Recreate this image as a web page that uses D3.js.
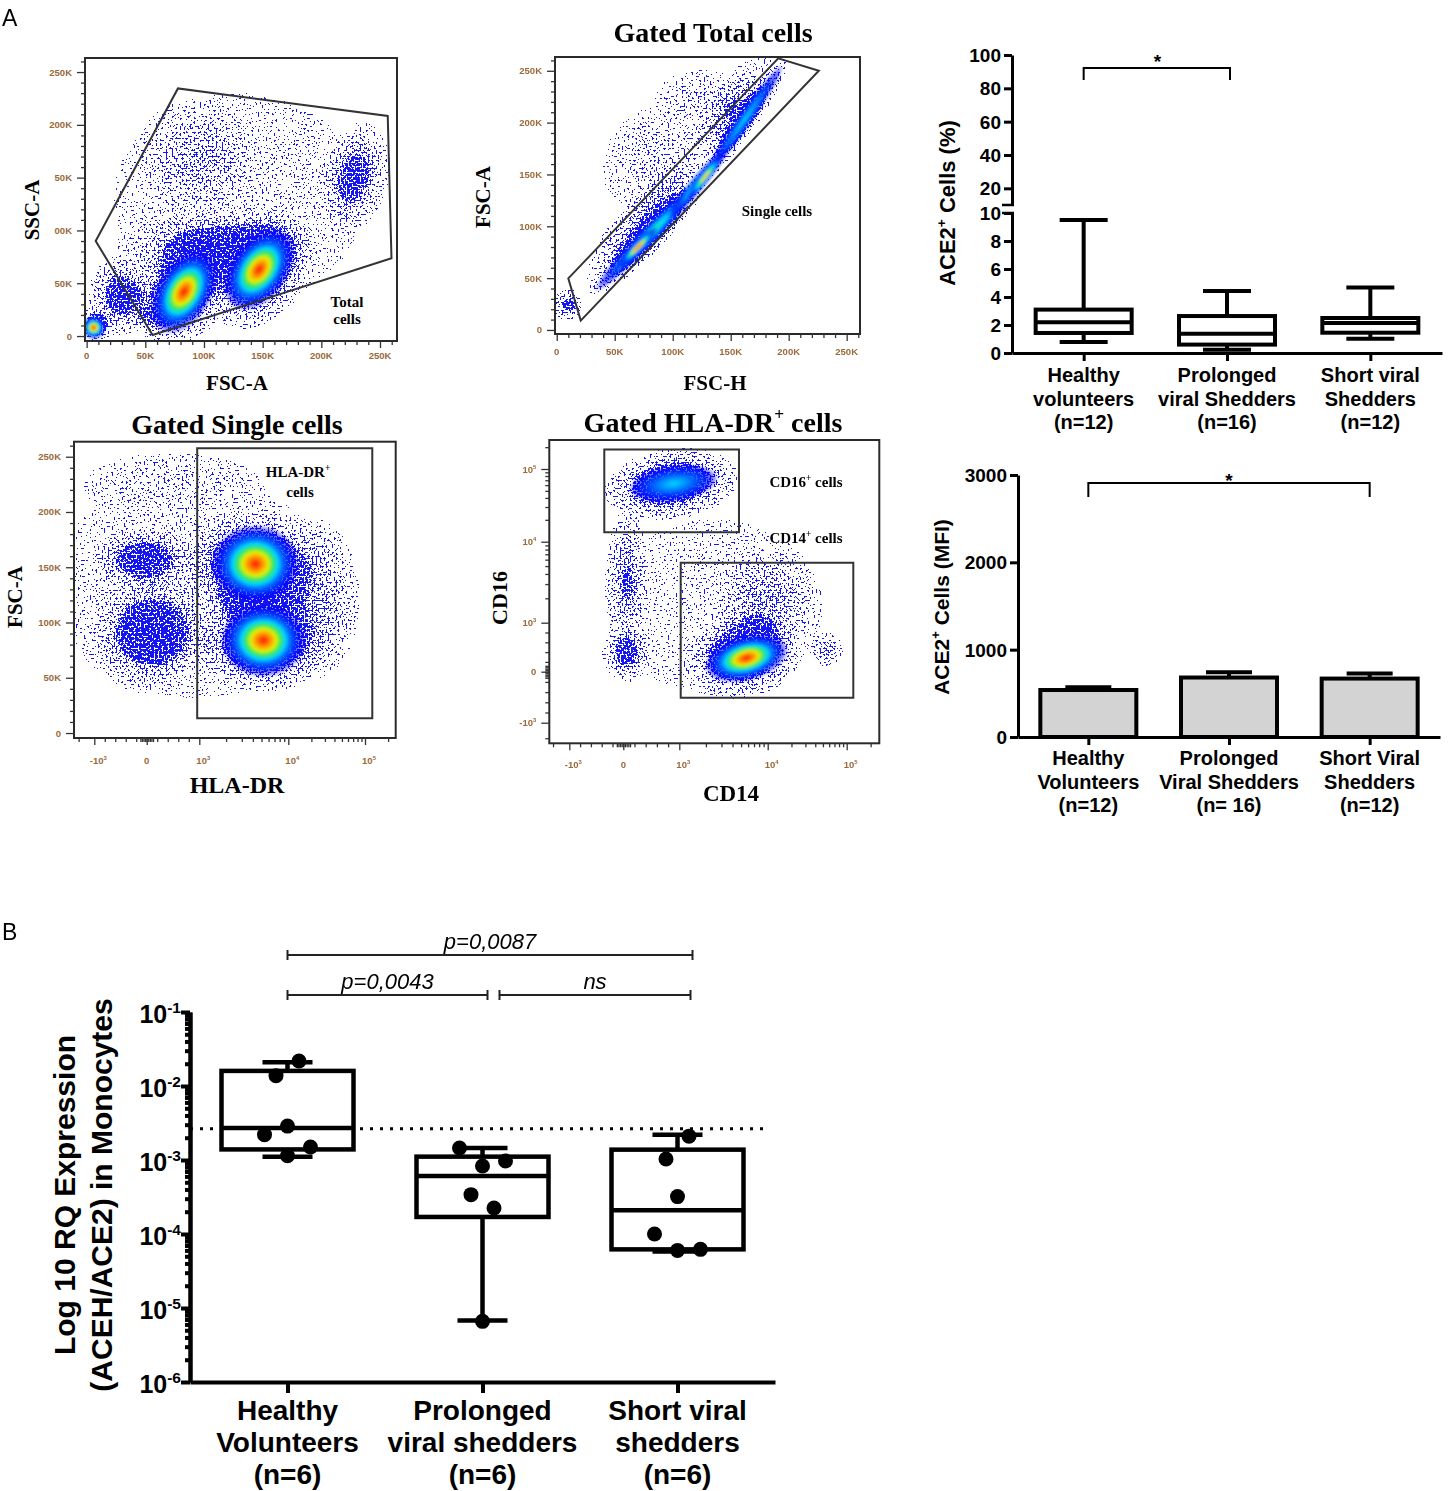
<!DOCTYPE html>
<html>
<head>
<meta charset="utf-8">
<script src="https://cdnjs.cloudflare.com/ajax/libs/d3/7.8.5/d3.min.js"></script>
<style>
  body { margin: 0; background: #fff; }
  svg { display: block; }
</style>
</head>
<body>
<svg id="canvas"></svg>
<script>
let width = 1454;
let height = 1491;

let sans = "'Liberation Sans', Arial, Helvetica, sans-serif";
let serif = "'Liberation Serif', 'Times New Roman', serif";

// ---------- panel A : flow cytometry gating ----------
// scatter populations: [x, y, spreadX, spreadY, tilt (deg), density 0-1]
// hot cores:           [x, y, spreadX, spreadY, tilt (deg), heat 0-6]
// biexponential axes are in decade units: 0 = 0, 1 = 10^3, 2 = 10^4, 3 = 10^5, -1 = -10^3
let totalSpeckle = [
  [130, 130, 150, 140, 0, 0.15],
  [95, 170, 55, 55, 0, 0.4],
  [228, 150, 30, 55, 15, 0.7],
  [115, 85, 90, 38, 0, 0.75],
  [30, 38, 30, 40, 0, 0.8],
  [60, 18, 22, 14, 0, 0.5],
  [82, 45, 40, 62, 30, 1],
  [146, 63, 42, 62, 35, 1],
  [8, 10, 16, 18, 0, 1]
];
let totalCores = [
  [83, 42, 24, 44, 30, 6],
  [147, 63, 25, 44, 35, 6],
  [6, 8, 10, 11, 30, 6]
];
let totalGate = [[7.7, 90], [77.8, 234.5], [256.6, 208.4], [259.8, 73.6], [56.2, 1]];

let singleSpeckle = [
  [80, 92, 76, 16, -46, 1],
  [162, 203, 66, 13, -55, 1],
  [76, 104, 78, 28, -50, 0.6],
  [150, 210, 62, 26, -56, 0.55],
  [85, 165, 60, 55, -50, 0.28],
  [125, 225, 45, 30, 0, 0.3],
  [10, 24, 14, 16, 0, 0.7]
];
let singleCores = [
  [80, 92, 68, 9, -46, 3],
  [162, 203, 58, 7, -55, 2],
  [122, 142, 40, 7, -50, 3],
  [70, 80, 24, 5, -46, 6],
  [128, 148, 26, 5, -52, 5]
];
let singleGate = [[10, 49.7], [191, 262], [226, 250], [20.7, 9]];

let hlaSpeckle = [
  [0.9, 130, 2.3, 125, 0, 0.2],
  [0.4, 228, 1.4, 32, 0, 0.2],
  [-0.05, 157, 1.0, 30, 0, 0.8],
  [0.1, 90, 1.1, 55, 0, 0.85],
  [2.4, 120, 0.55, 75, 0, 0.45],
  [1.68, 118, 0.7, 25, 0, 0.8],
  [1.63, 153, 0.9, 50, 0, 1],
  [1.72, 82, 0.85, 46, 0, 1]
];
let hlaCores = [
  [1.63, 153, 0.52, 36, 0, 6],
  [1.72, 84, 0.52, 34, 0, 6]
];
let hlaGate = [[0.96, 13.3], [3.095, 13.3], [3.095, 257.6], [0.96, 257.6]];

let cdSpeckle = [
  [1.4, 1.2, 2.2, 1.9, 0, 0.1],
  [0.85, 2.8, 0.85, 0.5, -8, 1],
  [0.07, 1.5, 0.4, 1.0, 0, 0.6],
  [0.06, 0.37, 0.45, 0.6, 0, 0.7],
  [1.95, 1.25, 0.7, 0.75, 0, 0.5],
  [2.75, 0.45, 0.22, 0.35, 0, 0.5],
  [1.72, 0.35, 0.75, 0.8, -15, 1]
];
let cdCores = [
  [0.9, 2.8, 0.55, 0.25, -8, 2],
  [1.76, 0.28, 0.52, 0.47, -15, 6]
];
let cd16Gate = [[-0.352, 2.13], [1.675, 2.13], [1.675, 3.27], [-0.352, 3.27]];
let cd14Gate = [[1.016, -0.51], [3.083, -0.51], [3.083, 1.74], [1.016, 1.74]];

let linTicks = [0, 50, 100, 150, 200, 250];
let linLabels = ["0", "50K", "100K", "150K", "200K", "250K"];
let sscLabels = ["0", "50K", "00K", "50K", "200K", "250K"];
let biexTicks = [-1, 0, 1, 2, 3];
let biexLabels = [["-10", ["3"]], ["0"], ["10", ["3"]], ["10", ["4"]], ["10", ["5"]]];

// ---------- panel A : ACE2+ cells (%) ----------
let pctGroups = [["Healthy", "volunteers", "(n=12)"], ["Prolonged", "viral Shedders", "(n=16)"], ["Short viral", "Shedders", "(n=12)"]];
let pctMin = [0.79, 0.24, 1.02];
let pctQ1 = [1.43, 0.6, 1.45];
let pctMed = [2.2, 1.38, 2.15];
let pctQ3 = [3.1, 2.64, 2.5];
let pctMax = [9.5, 4.43, 4.67];
let pctLowTicks = [0, 2, 4, 6, 8, 10];
let pctHighTicks = [20, 40, 60, 80, 100];

// ---------- panel A : ACE2+ cells (MFI) ----------
let mfiGroups = [["Healthy", "Volunteers", "(n=12)"], ["Prolonged", "Viral Shedders", "(n= 16)"], ["Short Viral", "Shedders", "(n=12)"]];
let mfiMean = [538, 681, 669];
let mfiErr = [31, 61, 58];
let mfiTicks = [0, 1000, 2000, 3000];

// ---------- panel B : RQ expression ----------
let rqGroups = [["Healthy", "Volunteers", "(n=6)"], ["Prolonged", "viral shedders", "(n=6)"], ["Short viral", "shedders", "(n=6)"]];
let rqMin = [1.11e-3, 6.8e-6, 5.8e-5];
let rqQ1 = [1.39e-3, 1.7e-4, 6.2e-5];
let rqMed = [2.7e-3, 6.1e-4, 2.1e-4];
let rqQ3 = [1.6e-2, 1.11e-3, 1.38e-3];
let rqMax = [2.09e-2, 1.45e-3, 2.2e-3];
let rqPoints = [
  [0.0218, 0.0138, 2.87e-3, 2.2e-3, 1.5e-3, 1.14e-3],
  [1.45e-3, 9.7e-4, 8.3e-4, 3.4e-4, 2.25e-4, 6.6e-6],
  [2.1e-3, 1.03e-3, 3.2e-4, 1.0e-4, 6.0e-5, 6.2e-5]
];
let rqSlots = [[1, -1, 0, -2, 2, 0], [-2, 2, 0, -1, 1, 0], [1, -1, 0, -2, 0, 2]];
let rqRef = 2.65e-3;
let rqTicks = [1e-1, 1e-2, 1e-3, 1e-4, 1e-5, 1e-6];
let rqTickExp = ["-1", "-2", "-3", "-4", "-5", "-6"];
let rqBrackets = [[0, 2, "p=0,0087"], [0, 1, "p=0,0043"], [1, 2, "ns"]];

let jet = ["#0000ff", "#0070ff", "#00d8ff", "#2ee85a", "#e8f000", "#ff9000", "#ff1000"];

let canvas = d3.select("#canvas").attr("width", width).attr("height", height);
let defs = canvas.append("defs");

// speckle texture: density alpha thresholded against noise gives scattered events
let spk = defs.append("filter").attr("id", "speckle")
  .attr("filterUnits", "userSpaceOnUse").attr("x", 0).attr("y", 0)
  .attr("width", width).attr("height", height)
  .attr("color-interpolation-filters", "sRGB");
spk.append("feTurbulence").attr("type", "fractalNoise").attr("baseFrequency", 0.5)
  .attr("numOctaves", 1).attr("seed", 5).attr("result", "noise");
spk.append("feColorMatrix").attr("in", "noise").attr("type", "matrix")
  .attr("values", "0 0 0 0 0  0 0 0 0 0  0 0 0 0 0  2.8 0 0 0 -0.9").attr("result", "n");
spk.append("feComposite").attr("in", "SourceAlpha").attr("in2", "n").attr("operator", "arithmetic")
  .attr("k1", 0).attr("k2", 1).attr("k3", -1).attr("k4", 0).attr("result", "d");
spk.append("feComponentTransfer").attr("in", "d").attr("result", "mask")
  .append("feFuncA").attr("type", "discrete")
  .attr("tableValues", "0 1 1 1 1 1 1 1 1 1 1 1 1 1 1 1 1 1 1 1");
spk.append("feFlood").attr("flood-color", "#1515f0").attr("result", "blue");
spk.append("feComposite").attr("in", "blue").attr("in2", "mask").attr("operator", "in");

defs.append("filter").attr("id", "soft").append("feGaussianBlur").attr("stdDeviation", 1.4);

let sg = defs.append("radialGradient").attr("id", "spkGrad");
sg.append("stop").attr("offset", 0).attr("stop-color", "#000").attr("stop-opacity", 1);
sg.append("stop").attr("offset", 0.4).attr("stop-color", "#000").attr("stop-opacity", 0.75);
sg.append("stop").attr("offset", 0.72).attr("stop-color", "#000").attr("stop-opacity", 0.32);
sg.append("stop").attr("offset", 1).attr("stop-color", "#000").attr("stop-opacity", 0);

d3.range(1, 7).forEach(h => {
  let gr = defs.append("radialGradient").attr("id", "jet" + h);
  for (let i = h; i >= 1; i--) {
    gr.append("stop").attr("offset", Math.pow((h - i) / h, 0.8) * 0.7).attr("stop-color", jet[i]);
  }
  gr.append("stop").attr("offset", 0.85).attr("stop-color", jet[0]).attr("stop-opacity", 0.6);
  gr.append("stop").attr("offset", 1).attr("stop-color", jet[0]).attr("stop-opacity", 0);
});

// text with superscripts: parts are strings, [string] = superscript
let rich = (sel, parts, size) => {
  let shift = 0;
  parts.forEach(part => {
    let isSup = Array.isArray(part);
    let target = isSup ? -size * 0.42 : 0;
    sel.append("tspan")
      .attr("dy", (target - shift) + "px")
      .attr("font-size", isSup ? size * 0.62 : size)
      .text(isSup ? part[0] : part);
    shift = target;
  });
  return sel;
};

let label = (x, y, parts, size, opts) => {
  opts = opts || {};
  let t = canvas.append("text")
    .attr("font-family", opts.family || sans)
    .attr("font-weight", opts.weight || "bold")
    .attr("font-style", opts.style || "normal")
    .attr("text-anchor", opts.anchor || "middle")
    .attr("fill", opts.fill || "#000");
  if (opts.rotate) {
    t.attr("transform", "translate(" + x + "," + y + ") rotate(-90)").attr("x", 0).attr("y", 0);
  } else {
    t.attr("x", x).attr("y", y);
  }
  return rich(t, parts, size);
};

// ---------- flow plots ----------
let linMinor = d3.range(10, 261, 10).filter(v => v % 50 !== 0);
let biexMinor = d3.range(-0.12, 0.121, 0.03).concat([-0.8, -0.6, -0.4, -0.2, 0.2, 0.4, 0.6, 0.8, -1 - Math.log10(2)]);
[1, 2, 3].forEach(dec => d3.range(2, 10).forEach(k => {
  let v = dec + Math.log10(k);
  if (v < 3.4) biexMinor.push(v);
}));

let flowPlots = [
  {
    id: 1,
    x: d3.scaleLinear().domain([-1.4, 264.5]).range([85, 397]),
    y: d3.scaleLinear().domain([-4.7, 263.3]).range([341, 58]),
    xLim: [-1.4, 264.5], yLim: [-4.7, 263.3],
    xMajor: linTicks, xLabels: linLabels.map(s => [s]), xMinor: linMinor, xLabDy: 18,
    yMajor: linTicks, yLabels: sscLabels.map(s => [s]), yMinor: linMinor,
    speckle: totalSpeckle, cores: totalCores, gates: [totalGate],
    texts: [[347, 307, ["Total"], 15], [347, 324, ["cells"], 15]],
    xTitle: [237, 390, "FSC-A", 21], yTitle: [32, 210, "SSC-A", 21], title: null
  },
  {
    id: 2,
    x: d3.scaleLinear().domain([-1.5, 261.5]).range([555, 860]),
    y: d3.scaleLinear().domain([-3.9, 263.3]).range([334, 57]),
    xLim: [-1.5, 261.5], yLim: [-3.9, 263.3],
    xMajor: linTicks, xLabels: linLabels.map(s => [s]), xMinor: linMinor, xLabDy: 21,
    yMajor: linTicks, yLabels: linLabels.map(s => [s]), yMinor: linMinor,
    speckle: singleSpeckle, cores: singleCores, gates: [singleGate],
    texts: [[777, 216, ["Single cells"], 15]],
    xTitle: [715, 390, "FSC-H", 21], yTitle: [483, 197, "FSC-A", 21],
    title: [713, 42, ["Gated Total cells"]]
  },
  {
    id: 3,
    x: d3.scaleLinear().domain([-1.39, -1, 0, 1, 2, 3, 3.4]).range([74, 94.3, 146.7, 199.3, 288.3, 365, 395.7]),
    y: d3.scaleLinear().domain([-4.5, 263.6]).range([738, 441.7]),
    xLim: [-1.39, 3.4], yLim: [-4.5, 263.6],
    xMajor: biexTicks, xLabels: biexLabels, xMinor: biexMinor, xLabDy: 26,
    yMajor: linTicks, yLabels: linLabels.map(s => [s]), yMinor: linMinor,
    speckle: hlaSpeckle, cores: hlaCores, gates: [hlaGate],
    texts: [[298, 477, ["HLA-DR", ["+"]], 15], [300, 497, ["cells"], 15]],
    xTitle: [237, 793, "HLA-DR", 24], yTitle: [15, 597, "FSC-A", 21],
    title: [237, 434, ["Gated Single cells"]]
  },
  {
    id: 4,
    x: d3.scaleLinear().domain([-1.37, -1, 0, 1, 2, 3, 3.41]).range([549.3, 569.3, 623.3, 679.3, 767.7, 846.7, 879.3]),
    y: d3.scaleLinear().domain([-1.4, -1, 0, 1, 2, 3, 3.4]).range([743.3, 722.7, 671.7, 622.7, 541.7, 469, 440]),
    xLim: [-1.37, 3.41], yLim: [-1.4, 3.4],
    xMajor: biexTicks, xLabels: biexLabels, xMinor: biexMinor, xLabDy: 25,
    yMajor: biexTicks, yLabels: biexLabels, yMinor: biexMinor,
    speckle: cdSpeckle, cores: cdCores, gates: [cd16Gate, cd14Gate],
    texts: [[806, 487, ["CD16", ["+"], " cells"], 15], [806, 543, ["CD14", ["+"], " cells"], 15]],
    xTitle: [731, 801, "CD14", 23], yTitle: [499, 598, "CD16", 22],
    title: [713, 432, ["Gated HLA-DR", ["+"], " cells"]]
  }
];

let drawFlow = (p) => {
  let g = canvas.append("g");
  let left = p.x(p.xLim[0]), right = p.x(p.xLim[1]);
  let top = p.y(p.yLim[1]), bottom = p.y(p.yLim[0]);

  defs.append("clipPath").attr("id", "clip" + p.id)
    .append("rect").attr("x", left).attr("y", top)
    .attr("width", right - left).attr("height", bottom - top);

  let plot = g.append("g").attr("clip-path", "url(#clip" + p.id + ")");

  let blob = (sel) => sel
    .attr("cx", d => p.x(d[0]))
    .attr("cy", d => p.y(d[1]))
    .attr("rx", d => Math.abs(p.x(d[0] + d[2]) - p.x(d[0])))
    .attr("ry", d => Math.abs(p.y(d[1] + d[3]) - p.y(d[1])))
    .attr("transform", d => "rotate(" + d[4] + "," + p.x(d[0]) + "," + p.y(d[1]) + ")");

  plot.append("g").attr("filter", "url(#speckle)")
    .selectAll("ellipse").data(p.speckle).enter().append("ellipse")
    .call(blob)
    .attr("fill", "url(#spkGrad)")
    .attr("fill-opacity", d => d[5]);

  plot.append("g").attr("filter", "url(#soft)")
    .selectAll("ellipse").data(p.cores).enter().append("ellipse")
    .call(blob)
    .attr("fill", d => "url(#jet" + d[5] + ")");

  let line = d3.line().x(d => p.x(d[0])).y(d => p.y(d[1])).curve(d3.curveLinearClosed);
  g.selectAll(".gate").data(p.gates).enter().append("path")
    .attr("d", line).attr("fill", "none").attr("stroke", "#333").attr("stroke-width", 2);

  g.append("rect").attr("x", left).attr("y", top)
    .attr("width", right - left).attr("height", bottom - top)
    .attr("fill", "none").attr("stroke", "#2a2a2a").attr("stroke-width", 2);

  let axes = [
    [d3.axisLeft(p.y).tickValues(p.yMajor).tickSize(8), "translate(" + left + ",0)"],
    [d3.axisLeft(p.y).tickValues(p.yMinor).tickSize(4), "translate(" + left + ",0)"],
    [d3.axisBottom(p.x).tickValues(p.xMajor).tickSize(7), "translate(0," + bottom + ")"],
    [d3.axisBottom(p.x).tickValues(p.xMinor).tickSize(4), "translate(0," + bottom + ")"]
  ];
  axes.forEach(a => {
    g.append("g").attr("transform", a[1]).attr("color", "#333")
      .call(a[0].tickSizeOuter(0).tickFormat(""))
      .call(s => s.select(".domain").remove())
      .selectAll("line").attr("stroke-width", 1.3);
  });

  p.yMajor.forEach((v, i) => {
    label(left - 13, p.y(v) + 3.5, p.yLabels[i], 9.5, { anchor: "end", fill: "#9a6a3a" });
  });
  p.xMajor.forEach((v, i) => {
    let lab = p.xLabels[i];
    label(p.x(v) + (lab.length > 1 ? 4 : 0), bottom + p.xLabDy, lab, 9.5, { fill: "#9a6a3a" });
  });

  p.texts.forEach(t => label(t[0], t[1], t[2], t[3], { family: serif }));
  label(p.xTitle[0], p.xTitle[1], [p.xTitle[2]], p.xTitle[3], { family: serif });
  label(p.yTitle[0], p.yTitle[1], [p.yTitle[2]], p.yTitle[3], { family: serif, rotate: true })
    .attr("transform", "translate(" + (p.yTitle[0] + p.yTitle[3] * 0.35) + "," + p.yTitle[1] + ") rotate(-90)");
  if (p.title) label(p.title[0], p.title[1], p.title[2], 28, { family: serif });
};

flowPlots.forEach(drawFlow);

// ---------- box plot helper ----------
let drawBoxes = (x, y, mins, q1s, meds, q3s, maxs, boxW, capW, sw) => {
  let g = canvas.append("g").attr("stroke", "#000").attr("stroke-width", sw).attr("fill", "none");
  let idx = d3.range(mins.length);
  g.selectAll(".wh").data(idx).enter().append("path")
    .attr("d", i => "M" + x(i) + "," + y(maxs[i]) + "V" + y(q3s[i]) +
      "M" + x(i) + "," + y(q1s[i]) + "V" + y(mins[i]) +
      "M" + (x(i) - capW / 2) + "," + y(maxs[i]) + "H" + (x(i) + capW / 2) +
      "M" + (x(i) - capW / 2) + "," + y(mins[i]) + "H" + (x(i) + capW / 2));
  g.selectAll(".bx").data(idx).enter().append("rect")
    .attr("x", i => x(i) - boxW / 2).attr("width", boxW)
    .attr("y", i => y(q3s[i])).attr("height", i => y(q1s[i]) - y(q3s[i]))
    .attr("fill", "#fff");
  g.selectAll(".md").data(idx).enter().append("line")
    .attr("x1", i => x(i) - boxW / 2).attr("x2", i => x(i) + boxW / 2)
    .attr("y1", i => y(meds[i])).attr("y2", i => y(meds[i]));
};

let styleAxis = (sel, sw) => {
  sel.attr("color", "#000");
  sel.select(".domain").attr("stroke-width", sw);
  sel.selectAll(".tick line").attr("stroke-width", sw);
};

let groupLabels = (x, groups, y0, lh, size) => {
  groups.forEach((lines, i) => {
    lines.forEach((s, j) => label(x(i), y0 + j * lh, [s], size));
  });
};

// ---------- ACE2+ cells (%) ----------
let pctX = d3.scalePoint().domain(d3.range(3)).range([1012, 1442]).padding(0.5);
let pctLow = d3.scaleLinear().domain([0, 10]).range([353, 213]);
let pctHigh = d3.scaleLinear().domain([10, 100]).range([205, 55]);
let pctY = v => (v <= 10 ? pctLow(v) : pctHigh(v));

canvas.append("g").attr("transform", "translate(1012,0)")
  .call(d3.axisLeft(pctLow).tickValues(pctLowTicks).tickSize(8).tickSizeOuter(0).tickFormat(""))
  .call(s => styleAxis(s, 3));
canvas.append("g").attr("transform", "translate(1012,0)")
  .call(d3.axisLeft(pctHigh).tickValues(pctHighTicks).tickSize(8).tickSizeOuter(0).tickFormat(""))
  .call(s => styleAxis(s, 3));
canvas.append("path").attr("d", "M1002," + pctHigh(10) + "H1014M1002," + pctLow(10) + "H1014")
  .attr("stroke", "#000").attr("stroke-width", 2.5);
canvas.append("g").attr("transform", "translate(0," + pctLow(0) + ")")
  .call(d3.axisBottom(pctX).tickSize(8).tickSizeOuter(0).tickFormat(""))
  .call(s => styleAxis(s, 3));

pctLowTicks.concat(pctHighTicks).forEach(v => label(1001, pctY(v) + 7, [String(v)], 19, { anchor: "end" }));
drawBoxes(pctX, pctY, pctMin, pctQ1, pctMed, pctQ3, pctMax, 96, 48, 4);
groupLabels(pctX, pctGroups, 382, 23.5, 20);
label(955, 203, ["ACE2", ["+"], " Cells (%)"], 22, { rotate: true });

canvas.append("path")
  .attr("d", "M" + pctX(0) + ",80V68H" + (pctX(1) + 3) + "V80")
  .attr("fill", "none").attr("stroke", "#000").attr("stroke-width", 2);
label((pctX(0) + pctX(1)) / 2 + 2, 68, ["*"], 19);

// ---------- ACE2+ cells (MFI) ----------
let mfiX = d3.scalePoint().domain(d3.range(3)).range([1018, 1440]).padding(0.5);
let mfiY = d3.scaleLinear().domain([0, 3000]).range([737, 475]);

canvas.append("g").attr("transform", "translate(1018,0)")
  .call(d3.axisLeft(mfiY).tickValues(mfiTicks).tickSize(8).tickSizeOuter(0).tickFormat(""))
  .call(s => styleAxis(s, 3));
canvas.append("g").attr("transform", "translate(0," + mfiY(0) + ")")
  .call(d3.axisBottom(mfiX).tickSize(8).tickSizeOuter(0).tickFormat(""))
  .call(s => styleAxis(s, 3));
mfiTicks.forEach(v => label(1007, mfiY(v) + 7, [String(v)], 19, { anchor: "end" }));

let mfi = canvas.append("g").attr("stroke", "#000").attr("stroke-width", 4);
mfi.selectAll(".err").data(d3.range(3)).enter().append("path")
  .attr("d", i => "M" + mfiX(i) + "," + mfiY(mfiMean[i]) + "V" + mfiY(mfiMean[i] + mfiErr[i]) +
    "M" + (mfiX(i) - 23) + "," + mfiY(mfiMean[i] + mfiErr[i]) + "H" + (mfiX(i) + 23));
mfi.selectAll(".bar").data(d3.range(3)).enter().append("rect")
  .attr("x", i => mfiX(i) - 48).attr("width", 96)
  .attr("y", i => mfiY(mfiMean[i])).attr("height", i => mfiY(0) - mfiY(mfiMean[i]))
  .attr("fill", "#d3d3d3");
groupLabels(mfiX, mfiGroups, 765, 23.5, 20);
label(949, 607, ["ACE2", ["+"], " Cells (MFI)"], 21, { rotate: true });

canvas.append("path")
  .attr("d", "M" + mfiX(0) + ",497V483H" + mfiX(2) + "V497")
  .attr("fill", "none").attr("stroke", "#000").attr("stroke-width", 2);
label((mfiX(0) + mfiX(2)) / 2, 487, ["*"], 19);

// ---------- panel B ----------
let rqX = d3.scalePoint().domain(d3.range(3)).range([190, 775]).padding(0.5);
let rqY = d3.scaleLog().domain([1e-6, 1e-1]).range([1382, 1012]);
let rqMinor = [];
d3.range(-6, -1).forEach(e => d3.range(2, 10).forEach(k => rqMinor.push(k * Math.pow(10, e))));

canvas.append("g").attr("transform", "translate(190,0)")
  .call(d3.axisLeft(rqY).tickValues(rqMinor).tickSize(5).tickSizeOuter(0).tickFormat(""))
  .call(s => styleAxis(s, 4));
canvas.append("g").attr("transform", "translate(190,0)")
  .call(d3.axisLeft(rqY).tickValues(rqTicks).tickSize(9).tickSizeOuter(0).tickFormat(""))
  .call(s => styleAxis(s, 4));
canvas.append("g").attr("transform", "translate(0," + rqY(1e-6) + ")")
  .call(d3.axisBottom(rqX).tickSize(11).tickSizeOuter(0).tickFormat(""))
  .call(s => styleAxis(s, 4));
rqTicks.forEach((v, i) => label(181, rqY(v) + 11, ["10", [rqTickExp[i]]], 25, { anchor: "end" }));

canvas.append("line")
  .attr("x1", 190).attr("x2", 768).attr("y1", rqY(rqRef)).attr("y2", rqY(rqRef))
  .attr("stroke", "#000").attr("stroke-width", 3).attr("stroke-dasharray", "3,7");

drawBoxes(rqX, rqY, rqMin, rqQ1, rqMed, rqQ3, rqMax, 132, 50, 4.5);

rqPoints.forEach((pts, i) => {
  canvas.append("g").selectAll("circle").data(pts).enter().append("circle")
    .attr("cx", (d, j) => rqX(i) + rqSlots[i][j] * 11.5)
    .attr("cy", d => rqY(d))
    .attr("r", 7.5)
    .attr("fill", "#000");
});

groupLabels(rqX, rqGroups, 1420, 32, 28);
label(75, 1195, ["Log 10 RQ Expression"], 30, { rotate: true });
label(112, 1195, ["(ACEH/ACE2) in Monocytes"], 30, { rotate: true });

let bracketY = [955, 995, 995];
let bracketEnds = [[rqX(0), rqX(2) + 15], [rqX(0), rqX(1) + 5], [rqX(1) + 17, rqX(2) + 13]];
rqBrackets.forEach((b, i) => {
  let [x1, x2] = bracketEnds[i];
  let y = bracketY[i];
  canvas.append("path")
    .attr("d", "M" + x1 + "," + (y - 5) + "V" + (y + 5) + "M" + x1 + "," + y + "H" + x2 + "M" + x2 + "," + (y - 5) + "V" + (y + 5))
    .attr("fill", "none").attr("stroke", "#222").attr("stroke-width", 2);
  label((x1 + x2) / 2, y - 6, [b[2]], 22, { weight: "normal", style: "italic" });
});

// panel letters
label(2, 26, ["A"], 23, { weight: "normal", anchor: "start" });
label(2, 940, ["B"], 23, { weight: "normal", anchor: "start" });
</script>
</body>
</html>
